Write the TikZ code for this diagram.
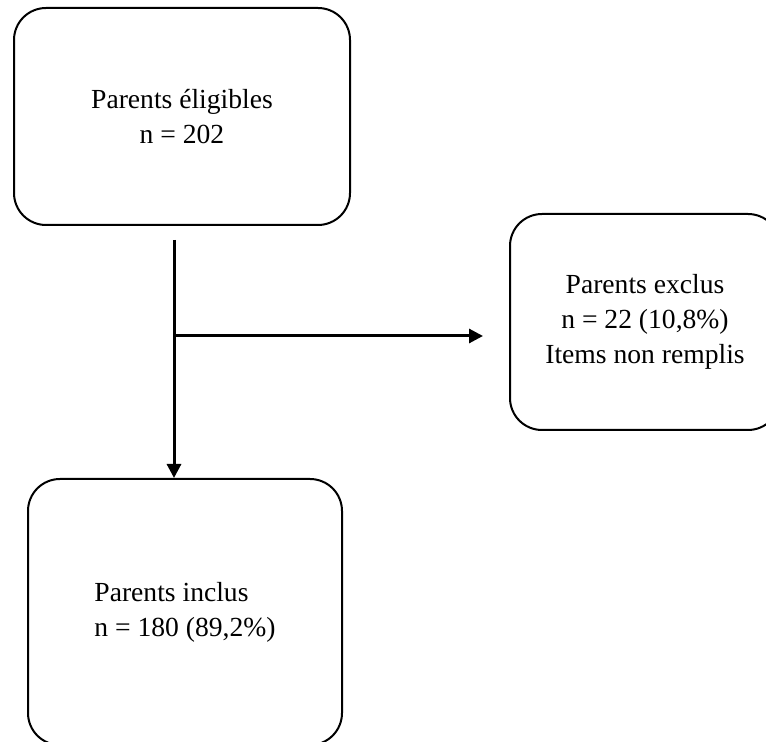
\documentclass[tikz,border=0pt]{standalone}
\usepackage{fontspec}
\setmainfont{Liberation Serif}
\usetikzlibrary{arrows.meta,positioning}

\begin{document}
\begin{tikzpicture}[
  x=0.5pt,y=-0.5pt,
  font=\fontsize{13.8pt}{17.5pt}\selectfont,
  >={Triangle[length=7pt,width=7pt]},
  box/.style={draw,line width=1pt,rounded corners=16pt,align=center,
              inner sep=0pt},
  flow/.style={->,line width=1.5pt},
]
\useasboundingbox (0,0) rectangle (766,742);

% eligible parents
\node[box,minimum width=168pt,minimum height=108.5pt] (elig) at (182,116.5)
     {Parents éligibles\\n = 202};

% excluded parents, on the right
\node[box,minimum width=135pt,minimum height=108pt] (excl) at (645,322)
     {Parents exclus\\n = 22 (10,8\%)\\Items non remplis};

% included parents
\node[box,minimum width=157pt,minimum height=133pt,align=left] (incl) at (185,612)
     {Parents inclus\\n = 180 (89,2\%)};

% main line down, with the branch to the excluded ones
\coordinate (start)  at (174,240);
\coordinate (branch) at (174,336);
\draw[flow] (start) -- (start |- incl.north);
\draw[flow] (branch) -- ([xshift=-13pt]branch -| excl.west);

\end{tikzpicture}
\end{document}
